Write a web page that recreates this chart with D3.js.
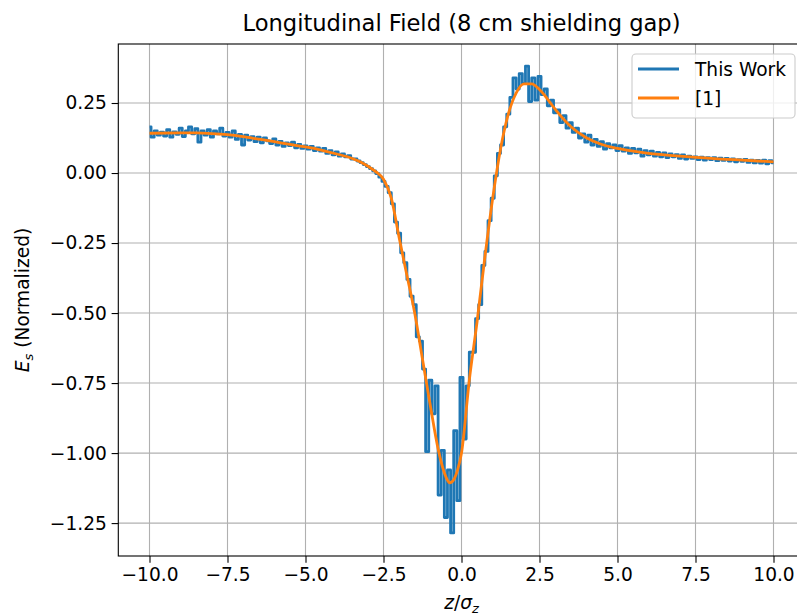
<!DOCTYPE html>
<html>
<head>
<meta charset="utf-8">
<script src="https://cdn.jsdelivr.net/npm/d3@7"></script>
<style>
  html, body { margin: 0; padding: 0; background: #fff; }
  svg { display: block; font-family: "DejaVu Sans", sans-serif; }
</style>
</head>
<body>
<svg id="chart" width="797" height="616"></svg>
<script>
// ---------------- data ----------------
const titleText = "Longitudinal Field (8 cm shielding gap)";
const seriesNames = ["This Work", "[1]"];
const seriesColors = ["#1f77b4", "#ff7f0e"];

const xTicks = [-10, -7.5, -5, -2.5, 0, 2.5, 5, 7.5, 10];
const yTicks = [-1.25, -1.0, -0.75, -0.5, -0.25, 0.0, 0.25];

// "This Work" : z from -10 to 10 in steps of 0.1
const workStart = -10, workStep = 0.1;
const workE = [
  0.165, 0.128, 0.150, 0.135, 0.146, 0.132, 0.155, 0.128, 0.147, 0.138,   // -10.0 .. -9.1
  0.160, 0.130, 0.150, 0.165, 0.140, 0.158, 0.110, 0.150, 0.135, 0.155,   // -9.0 .. -8.1
  0.128, 0.150, 0.140, 0.160, 0.132, 0.145, 0.128, 0.150, 0.120, 0.138,   // -8.0 .. -7.1
  0.100, 0.135, 0.118, 0.130, 0.112, 0.128, 0.108, 0.125, 0.115, 0.105,   // -7.0 .. -6.1
  0.122, 0.100, 0.113, 0.095, 0.108, 0.098, 0.110, 0.090, 0.102, 0.088,   // -6.0 .. -5.1
  0.097, 0.085, 0.095, 0.080, 0.090, 0.078, 0.088, 0.070, 0.080, 0.065,   // -5.0 .. -4.1
  0.075, 0.060, 0.068, 0.058, 0.062, 0.050, 0.050, 0.043, 0.037, 0.030,   // -4.0 .. -3.1
  0.023, 0.016, 0.008, -0.002, -0.015, -0.030, -0.048, -0.070, -0.110, -0.175, // -3.0 .. -2.1
  -0.215, -0.285, -0.320, -0.380, -0.440, -0.470, -0.585, -0.600, -0.700, -0.995, // -2.0 .. -1.1
  -0.740, -0.860, -0.760, -1.150, -0.990, -1.230, -1.060, -1.285, -0.920, -1.170, // -1.0 .. -0.1
  -0.730, -0.950, -0.760, -0.640, -0.640, -0.520, -0.470, -0.330, -0.280, -0.170, // 0.0 .. 0.9
  -0.090, -0.010, 0.070, 0.100, 0.165, 0.210, 0.270, 0.340, 0.300, 0.355,       // 1.0 .. 1.9
  0.320, 0.382, 0.255, 0.340, 0.260, 0.345, 0.280, 0.300, 0.240, 0.260,         // 2.0 .. 2.9
  0.215, 0.225, 0.180, 0.205, 0.160, 0.180, 0.145, 0.160, 0.125, 0.140,         // 3.0 .. 3.9
  0.110, 0.135, 0.100, 0.120, 0.095, 0.112, 0.085, 0.105, 0.090, 0.100,         // 4.0 .. 4.9
  0.080, 0.098, 0.078, 0.090, 0.070, 0.088, 0.072, 0.085, 0.060, 0.080,         // 5.0 .. 5.9
  0.065, 0.078, 0.060, 0.074, 0.058, 0.072, 0.055, 0.068, 0.058, 0.066,         // 6.0 .. 6.9
  0.052, 0.065, 0.050, 0.060, 0.052, 0.058, 0.048, 0.057, 0.046, 0.055,         // 7.0 .. 7.9
  0.048, 0.055, 0.044, 0.053, 0.045, 0.052, 0.043, 0.050, 0.040, 0.048,         // 8.0 .. 8.9
  0.042, 0.049, 0.038, 0.046, 0.036, 0.045, 0.035, 0.046, 0.033, 0.044,         // 9.0 .. 9.9
  0.036                                                                          // 10.0
];

// "[1]" reference curve
const refZ = [-10, -9, -8.5, -8, -7.5, -7, -6.5, -6, -5.5, -5, -4.5, -4, -3.5, -3.25, -3, -2.75,
  -2.5, -2.25, -2, -1.75, -1.5, -1.25, -1, -0.75, -0.5, -0.375, -0.25, -0.125, 0,
  0.25, 0.5, 0.75, 1, 1.25, 1.5, 1.75, 2, 2.25, 2.5, 2.75, 3, 3.5, 4, 4.5, 5, 5.5,
  6, 6.5, 7, 7.5, 8, 8.5, 9, 9.5, 10];
const refE = [0.142, 0.143, 0.143, 0.141, 0.137, 0.130, 0.121, 0.112, 0.102, 0.093, 0.082, 0.068, 0.052, 0.040, 0.024, 0.005,
  -0.022, -0.090, -0.230, -0.365, -0.500, -0.665, -0.830, -0.985, -1.085, -1.106, -1.095, -1.060, -1.000,
  -0.740, -0.530, -0.300, -0.090, 0.085, 0.210, 0.285, 0.318, 0.318, 0.298, 0.265, 0.228, 0.166, 0.126, 0.102, 0.088, 0.078,
  0.070, 0.065, 0.060, 0.056, 0.052, 0.049, 0.046, 0.043, 0.040];

// ---------------- layout ----------------
const svg = d3.select("#chart");
const W = 797, H = 616;
const plot = { left: 118.3, right: 804.7, top: 44, bottom: 556 };

const x = d3.scaleLinear().domain([-11, 11]).range([plot.left, plot.right]);
const y = d3.scaleLinear().domain([-1.3675, 0.4607]).range([plot.bottom, plot.top]);

const tickFont = 18.6;
const fmtX = v => d3.format(".1f")(v).replace("-", "\u2212");
const fmtY = v => d3.format(".2f")(v).replace("-", "\u2212");

svg.append("rect").attr("width", W).attr("height", H).attr("fill", "#fff");

// clip
svg.append("clipPath").attr("id", "clip").append("rect")
  .attr("x", plot.left).attr("y", plot.top)
  .attr("width", plot.right - plot.left).attr("height", plot.bottom - plot.top);

// grid
const grid = svg.append("g").attr("stroke", "#b0b0b0").attr("stroke-width", 1.1);
xTicks.forEach(t => grid.append("line")
  .attr("x1", x(t)).attr("x2", x(t)).attr("y1", plot.top).attr("y2", plot.bottom));
yTicks.forEach(t => grid.append("line")
  .attr("x1", plot.left).attr("x2", plot.right).attr("y1", y(t)).attr("y2", y(t)));

// lines
const workData = workE.map((e, i) => [workStart + i * workStep, e]);
const refData = refZ.map((z, i) => [z, refE[i]]);

const lineG = svg.append("g").attr("clip-path", "url(#clip)");
lineG.append("path").datum(workData)
  .attr("d", d3.line().x(d => x(d[0])).y(d => y(d[1])).curve(d3.curveStep))
  .attr("fill", "none").attr("stroke", seriesColors[0]).attr("stroke-width", 2.8)
  .attr("stroke-linejoin", "round");
lineG.append("path").datum(refData)
  .attr("d", d3.line().x(d => x(d[0])).y(d => y(d[1])).curve(d3.curveMonotoneX))
  .attr("fill", "none").attr("stroke", seriesColors[1]).attr("stroke-width", 2.8)
  .attr("stroke-linejoin", "round");

// axes
const xAxis = d3.axisBottom(x).tickValues(xTicks).tickFormat(fmtX).tickSize(6.7).tickPadding(4.8);
const yAxis = d3.axisLeft(y).tickValues(yTicks).tickFormat(fmtY).tickSize(6.7).tickPadding(4.8);

const gx = svg.append("g").attr("transform", `translate(0,${plot.bottom})`).call(xAxis);
const gy = svg.append("g").attr("transform", `translate(${plot.left},0)`).call(yAxis);
[gx, gy].forEach(g => {
  g.select(".domain").remove();
  g.selectAll(".tick line").attr("stroke", "#000").attr("stroke-width", 1.1);
  g.selectAll(".tick text").attr("fill", "#000").attr("font-size", tickFont)
    .attr("font-family", "DejaVu Sans, sans-serif");
});

// spines
svg.append("rect")
  .attr("x", plot.left).attr("y", plot.top)
  .attr("width", plot.right - plot.left).attr("height", plot.bottom - plot.top)
  .attr("fill", "none").attr("stroke", "#000").attr("stroke-width", 1.1);

// title
svg.append("text")
  .attr("x", (plot.left + plot.right) / 2).attr("y", 30.5)
  .attr("text-anchor", "middle").attr("font-size", 22.6).attr("fill", "#000")
  .text(titleText);

// x label
const xl = svg.append("text")
  .attr("x", (plot.left + plot.right) / 2).attr("y", 609)
  .attr("text-anchor", "middle").attr("font-size", tickFont).attr("fill", "#000");
xl.append("tspan").attr("font-style", "italic").text("z");
xl.append("tspan").text("/");
xl.append("tspan").attr("font-style", "italic").text("\u03c3");
xl.append("tspan").attr("font-style", "italic").attr("font-size", tickFont * 0.7).attr("dy", 4).text("z");

// y label
const yl = svg.append("text")
  .attr("transform", `translate(29,${(plot.top + plot.bottom) / 2}) rotate(-90)`)
  .attr("text-anchor", "middle").attr("font-size", tickFont).attr("fill", "#000");
yl.append("tspan").attr("font-style", "italic").text("E");
yl.append("tspan").attr("font-style", "italic").attr("font-size", tickFont * 0.7).attr("dy", 4).text("s");
yl.append("tspan").attr("dy", -4).text(" (Normalized)");

// legend
const lg = svg.append("g");
lg.append("rect")
  .attr("x", 632).attr("y", 54).attr("width", 163).attr("height", 64)
  .attr("rx", 4).attr("fill", "#fff").attr("fill-opacity", 0.8)
  .attr("stroke", "#cccccc").attr("stroke-width", 1.1);
seriesNames.forEach((name, i) => {
  const cy = 69 + i * 29;
  lg.append("line").attr("x1", 638).attr("x2", 679).attr("y1", cy).attr("y2", cy)
    .attr("stroke", seriesColors[i]).attr("stroke-width", 2.8);
  lg.append("text").attr("x", 695).attr("y", cy).attr("dy", "0.35em")
    .attr("font-size", tickFont).attr("fill", "#000").text(name);
});
</script>
</body>
</html>
